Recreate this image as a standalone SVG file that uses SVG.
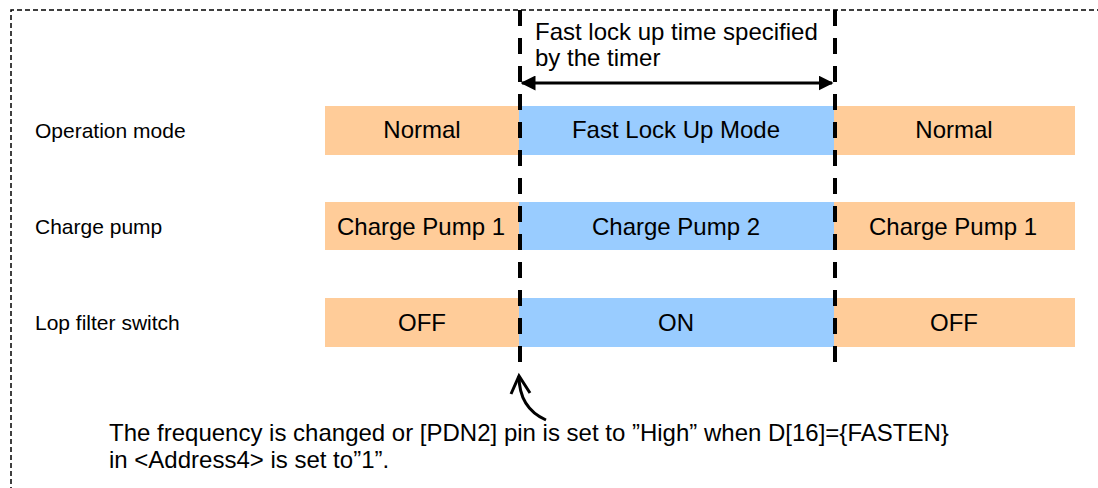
<svg xmlns="http://www.w3.org/2000/svg" width="1098" height="488" viewBox="0 0 1098 488">
<style>
.lbl{font-family:"Liberation Sans",Arial,sans-serif;font-size:21px;fill:#000}
.bt{font-family:"Liberation Sans",Arial,sans-serif;font-size:24px;fill:#000;text-anchor:middle}
.tx{font-family:"Liberation Sans",Arial,sans-serif;font-size:24px;fill:#000}
.nt{font-family:"Liberation Sans",Arial,sans-serif;font-size:24px;fill:#000}
.or{fill:#FFCC99}
.bl{fill:#99CCFF}
.vd{stroke:#000;stroke-width:4;stroke-dasharray:16 12;fill:none}
</style>
<defs>
<marker id="ah" viewBox="0 0 10 10" refX="9" refY="5" markerWidth="5" markerHeight="5" orient="auto-start-reverse" markerUnits="strokeWidth">
<path d="M0,0 L10,5 L0,10 z" fill="#000"/>
</marker>
</defs>
<rect width="1098" height="488" fill="#fff"/>
<path d="M11,500 L11,10 L1110,10" fill="none" stroke="#000" stroke-width="1.5" stroke-dasharray="5 3"/>
<g id="labels">
<text class="lbl" x="35" y="138">Operation mode</text>
<text class="lbl" x="35" y="234">Charge pump</text>
<text class="lbl" x="35" y="330">Lop filter switch</text>
</g>
<g id="row1">
<rect class="or" x="325" y="106" width="194" height="49"/><text class="bt" x="422" y="138">Normal</text>
<rect class="bl" x="519" y="106" width="315" height="49"/><text class="bt" x="676" y="138">Fast Lock Up Mode</text>
<rect class="or" x="834" y="106" width="241" height="49"/><text class="bt" x="954" y="138">Normal</text>
</g>
<g id="row2">
<rect class="or" x="325" y="202" width="194" height="48"/><text class="bt" x="421" y="235">Charge Pump 1</text>
<rect class="bl" x="519" y="202" width="315" height="48"/><text class="bt" x="676" y="235">Charge Pump 2</text>
<rect class="or" x="834" y="202" width="241" height="48"/><text class="bt" x="953" y="235">Charge Pump 1</text>
</g>
<g id="row3">
<rect class="or" x="325" y="298" width="194" height="49"/><text class="bt" x="422" y="331">OFF</text>
<rect class="bl" x="519" y="298" width="315" height="49"/><text class="bt" x="676" y="331">ON</text>
<rect class="or" x="834" y="298" width="241" height="49"/><text class="bt" x="954" y="331">OFF</text>
</g>
<g id="connectors">
<line class="vd" x1="520" y1="10" x2="520" y2="362"/>
<line class="vd" x1="835" y1="10" x2="835" y2="362"/>
<line x1="522" y1="83" x2="832" y2="83" stroke="#000" stroke-width="3" marker-start="url(#ah)" marker-end="url(#ah)"/>
<path d="M546,420 C528,412 519,398 519,376" fill="none" stroke="#000" stroke-width="3"/>
<path d="M511,394 L519,376 L530,393" fill="none" stroke="#000" stroke-width="3"/>
</g>
<g id="texts">
<text class="tx" x="535" y="40">Fast lock up time specified</text>
<text class="tx" x="535" y="66">by the timer</text>
<text class="nt" x="109" y="441">The frequency is changed or [PDN2] pin is set to ”High” when D[16]={FASTEN}</text>
<text class="nt" x="109" y="468">in &lt;Address4&gt; is set to”1”.</text>
</g>
</svg>
